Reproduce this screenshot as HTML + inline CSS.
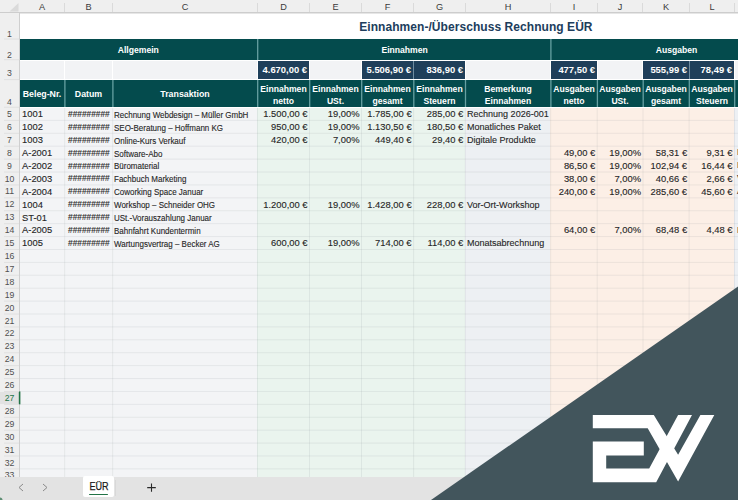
<!DOCTYPE html><html><head><meta charset="utf-8"><style>
html,body{margin:0;padding:0;width:738px;height:500px;overflow:hidden;background:#f4f5f7;font-family:"Liberation Sans", sans-serif;}
.a{position:absolute;}
.t{position:absolute;white-space:nowrap;line-height:1;} .d{-webkit-text-stroke:0.12px #262626;}
</style></head><body>
<div class="a" style="left:20.0px;top:106.5px;width:237.0px;height:370px;background:#f3f4f6"></div>
<div class="a" style="left:257.0px;top:106.5px;width:208.0px;height:370px;background:#eaf4ee"></div>
<div class="a" style="left:465.0px;top:106.5px;width:85.0px;height:370px;background:#edf0f3"></div>
<div class="a" style="left:550.0px;top:106.5px;width:184.0px;height:370px;background:#fcefe6"></div>
<div class="a" style="left:734.0px;top:106.5px;width:4.0px;height:370px;background:#edf0f4"></div>
<svg class="a" style="left:0;top:0" width="738" height="500"><line x1="20" y1="120.40" x2="738" y2="120.40" stroke="rgba(120,130,140,0.12)" stroke-width="1"/><line x1="20" y1="133.31" x2="738" y2="133.31" stroke="rgba(120,130,140,0.12)" stroke-width="1"/><line x1="20" y1="146.21" x2="738" y2="146.21" stroke="rgba(120,130,140,0.12)" stroke-width="1"/><line x1="20" y1="159.12" x2="738" y2="159.12" stroke="rgba(120,130,140,0.12)" stroke-width="1"/><line x1="20" y1="172.03" x2="738" y2="172.03" stroke="rgba(120,130,140,0.12)" stroke-width="1"/><line x1="20" y1="184.94" x2="738" y2="184.94" stroke="rgba(120,130,140,0.12)" stroke-width="1"/><line x1="20" y1="197.84" x2="738" y2="197.84" stroke="rgba(120,130,140,0.12)" stroke-width="1"/><line x1="20" y1="210.75" x2="738" y2="210.75" stroke="rgba(120,130,140,0.12)" stroke-width="1"/><line x1="20" y1="223.66" x2="738" y2="223.66" stroke="rgba(120,130,140,0.12)" stroke-width="1"/><line x1="20" y1="236.56" x2="738" y2="236.56" stroke="rgba(120,130,140,0.12)" stroke-width="1"/><line x1="20" y1="249.47" x2="738" y2="249.47" stroke="rgba(120,130,140,0.12)" stroke-width="1"/><line x1="20" y1="262.38" x2="738" y2="262.38" stroke="rgba(120,130,140,0.12)" stroke-width="1"/><line x1="20" y1="275.28" x2="738" y2="275.28" stroke="rgba(120,130,140,0.12)" stroke-width="1"/><line x1="20" y1="288.19" x2="738" y2="288.19" stroke="rgba(120,130,140,0.12)" stroke-width="1"/><line x1="20" y1="301.10" x2="738" y2="301.10" stroke="rgba(120,130,140,0.12)" stroke-width="1"/><line x1="20" y1="314.00" x2="738" y2="314.00" stroke="rgba(120,130,140,0.12)" stroke-width="1"/><line x1="20" y1="326.91" x2="738" y2="326.91" stroke="rgba(120,130,140,0.12)" stroke-width="1"/><line x1="20" y1="339.82" x2="738" y2="339.82" stroke="rgba(120,130,140,0.12)" stroke-width="1"/><line x1="20" y1="352.73" x2="738" y2="352.73" stroke="rgba(120,130,140,0.12)" stroke-width="1"/><line x1="20" y1="365.63" x2="738" y2="365.63" stroke="rgba(120,130,140,0.12)" stroke-width="1"/><line x1="20" y1="378.54" x2="738" y2="378.54" stroke="rgba(120,130,140,0.12)" stroke-width="1"/><line x1="20" y1="391.45" x2="738" y2="391.45" stroke="rgba(120,130,140,0.12)" stroke-width="1"/><line x1="20" y1="404.35" x2="738" y2="404.35" stroke="rgba(120,130,140,0.12)" stroke-width="1"/><line x1="20" y1="417.26" x2="738" y2="417.26" stroke="rgba(120,130,140,0.12)" stroke-width="1"/><line x1="20" y1="430.17" x2="738" y2="430.17" stroke="rgba(120,130,140,0.12)" stroke-width="1"/><line x1="20" y1="443.08" x2="738" y2="443.08" stroke="rgba(120,130,140,0.12)" stroke-width="1"/><line x1="20" y1="455.98" x2="738" y2="455.98" stroke="rgba(120,130,140,0.12)" stroke-width="1"/><line x1="20" y1="468.89" x2="738" y2="468.89" stroke="rgba(120,130,140,0.12)" stroke-width="1"/><line x1="20" y1="481.80" x2="738" y2="481.80" stroke="rgba(120,130,140,0.12)" stroke-width="1"/><line x1="64.70" y1="107" x2="64.70" y2="477" stroke="rgba(120,130,140,0.12)" stroke-width="1"/><line x1="112.70" y1="107" x2="112.70" y2="477" stroke="rgba(120,130,140,0.12)" stroke-width="1"/><line x1="257.50" y1="107" x2="257.50" y2="477" stroke="rgba(120,130,140,0.12)" stroke-width="1"/><line x1="309.50" y1="107" x2="309.50" y2="477" stroke="rgba(120,130,140,0.12)" stroke-width="1"/><line x1="361.50" y1="107" x2="361.50" y2="477" stroke="rgba(120,130,140,0.12)" stroke-width="1"/><line x1="413.60" y1="107" x2="413.60" y2="477" stroke="rgba(120,130,140,0.12)" stroke-width="1"/><line x1="465.30" y1="107" x2="465.30" y2="477" stroke="rgba(120,130,140,0.12)" stroke-width="1"/><line x1="550.70" y1="107" x2="550.70" y2="477" stroke="rgba(120,130,140,0.12)" stroke-width="1"/><line x1="597.20" y1="107" x2="597.20" y2="477" stroke="rgba(120,130,140,0.12)" stroke-width="1"/><line x1="643.00" y1="107" x2="643.00" y2="477" stroke="rgba(120,130,140,0.12)" stroke-width="1"/><line x1="689.10" y1="107" x2="689.10" y2="477" stroke="rgba(120,130,140,0.12)" stroke-width="1"/><line x1="734.50" y1="107" x2="734.50" y2="477" stroke="rgba(120,130,140,0.12)" stroke-width="1"/></svg>
<div class="a" style="left:20px;top:107px;width:718px;height:1px;background:#ffffff"></div>
<div class="a" style="left:20px;top:13px;width:718px;height:26px;background:#ffffff"></div>
<div class="t" style="left:359.2px;top:21.2px;font-size:12px;letter-spacing:0.06px;font-weight:bold;color:#203d5c">Einnahmen-/Überschuss Rechnung EÜR</div>
<div class="a" style="left:20px;top:39px;width:718px;height:21px;background:#044b4d"></div>
<svg class="a" style="left:0;top:0" width="738" height="110"><line x1="257.70" y1="39" x2="257.70" y2="60" stroke="#66a0a2" stroke-width="1.3"/><line x1="550.90" y1="39" x2="550.90" y2="60" stroke="#66a0a2" stroke-width="1.3"/></svg>
<div class="t" style="left:138.3px;top:45.6px;width:0;font-size:8.60px;font-weight:bold;color:#fff;"><span style="position:absolute;left:0;transform:translateX(-50%)">Allgemein</span></div>
<div class="t" style="left:404.6px;top:45.6px;width:0;font-size:8.60px;font-weight:bold;color:#fff;"><span style="position:absolute;left:0;transform:translateX(-50%)">Einnahmen</span></div>
<div class="t" style="left:676.5px;top:45.5px;width:0;font-size:8.60px;font-weight:bold;color:#fff;"><span style="position:absolute;left:0;transform:translateX(-50%)">Ausgaben</span></div>
<div class="a" style="left:20px;top:60px;width:718px;height:20px;background:#ffffff"></div><div class="a" style="left:20px;top:61px;width:718px;height:18px;background:#f2f3f5"></div>
<div class="a" style="left:64px;top:60px;width:1px;height:20px;background:#ffffff"></div>
<div class="a" style="left:112px;top:60px;width:1px;height:20px;background:#ffffff"></div>
<div class="a" style="left:257px;top:60px;width:1px;height:20px;background:#ffffff"></div>
<div class="a" style="left:309px;top:60px;width:1px;height:20px;background:#ffffff"></div>
<div class="a" style="left:361px;top:60px;width:1px;height:20px;background:#ffffff"></div>
<div class="a" style="left:413px;top:60px;width:1px;height:20px;background:#ffffff"></div>
<div class="a" style="left:465px;top:60px;width:1px;height:20px;background:#ffffff"></div>
<div class="a" style="left:550px;top:60px;width:1px;height:20px;background:#ffffff"></div>
<div class="a" style="left:597px;top:60px;width:1px;height:20px;background:#ffffff"></div>
<div class="a" style="left:642px;top:60px;width:1px;height:20px;background:#ffffff"></div>
<div class="a" style="left:689px;top:60px;width:1px;height:20px;background:#ffffff"></div>
<div class="a" style="left:734px;top:60px;width:1px;height:20px;background:#ffffff"></div>
<div class="a" style="left:258px;top:61px;width:51px;height:18px;background:#1f3f5a"></div>
<div class="t" style="left:258px;top:65.3px;width:49px;text-align:right;font-size:9.6px;font-weight:bold;color:#fff;transform:scaleX(0.98);transform-origin:100% 0">4.670,00 €</div>
<div class="a" style="left:362px;top:61px;width:51px;height:18px;background:#1f3f5a"></div>
<div class="t" style="left:362px;top:65.3px;width:49px;text-align:right;font-size:9.6px;font-weight:bold;color:#fff;transform:scaleX(0.98);transform-origin:100% 0">5.506,90 €</div>
<div class="a" style="left:414px;top:61px;width:51px;height:18px;background:#1f3f5a"></div>
<div class="t" style="left:414px;top:65.3px;width:49px;text-align:right;font-size:9.6px;font-weight:bold;color:#fff;transform:scaleX(0.98);transform-origin:100% 0">836,90 €</div>
<div class="a" style="left:551px;top:61px;width:46px;height:18px;background:#1f3f5a"></div>
<div class="t" style="left:551px;top:65.3px;width:44px;text-align:right;font-size:9.6px;font-weight:bold;color:#fff;transform:scaleX(0.98);transform-origin:100% 0">477,50 €</div>
<div class="a" style="left:643px;top:61px;width:46px;height:18px;background:#1f3f5a"></div>
<div class="t" style="left:643px;top:65.3px;width:44px;text-align:right;font-size:9.6px;font-weight:bold;color:#fff;transform:scaleX(0.98);transform-origin:100% 0">555,99 €</div>
<div class="a" style="left:690px;top:61px;width:44px;height:18px;background:#1f3f5a"></div>
<div class="t" style="left:690px;top:65.3px;width:42px;text-align:right;font-size:9.6px;font-weight:bold;color:#fff;transform:scaleX(0.98);transform-origin:100% 0">78,49 €</div>
<div class="a" style="left:413px;top:61px;width:1px;height:18px;background:#6f8ca0"></div>
<div class="a" style="left:689px;top:61px;width:1px;height:18px;background:#6f8ca0"></div>
<div class="a" style="left:20px;top:80px;width:718px;height:27px;background:#044b4d"></div>
<svg class="a" style="left:0;top:0" width="738" height="110"><line x1="64.90" y1="80" x2="64.90" y2="107" stroke="#66a0a2" stroke-width="1.3"/><line x1="112.90" y1="80" x2="112.90" y2="107" stroke="#66a0a2" stroke-width="1.3"/><line x1="257.70" y1="80" x2="257.70" y2="107" stroke="#66a0a2" stroke-width="1.3"/><line x1="309.70" y1="80" x2="309.70" y2="107" stroke="#66a0a2" stroke-width="1.3"/><line x1="361.70" y1="80" x2="361.70" y2="107" stroke="#66a0a2" stroke-width="1.3"/><line x1="413.80" y1="80" x2="413.80" y2="107" stroke="#66a0a2" stroke-width="1.3"/><line x1="465.50" y1="80" x2="465.50" y2="107" stroke="#66a0a2" stroke-width="1.3"/><line x1="550.90" y1="80" x2="550.90" y2="107" stroke="#66a0a2" stroke-width="1.3"/><line x1="597.40" y1="80" x2="597.40" y2="107" stroke="#66a0a2" stroke-width="1.3"/><line x1="643.20" y1="80" x2="643.20" y2="107" stroke="#66a0a2" stroke-width="1.3"/><line x1="689.30" y1="80" x2="689.30" y2="107" stroke="#66a0a2" stroke-width="1.3"/><line x1="734.70" y1="80" x2="734.70" y2="107" stroke="#66a0a2" stroke-width="1.3"/></svg>
<div class="t" style="left:20px;top:89.8px;width:44px;text-align:center;font-size:8.8px;font-weight:bold;color:#fff">Beleg-Nr.</div>
<div class="t" style="left:65px;top:89.8px;width:47px;text-align:center;font-size:8.8px;font-weight:bold;color:#fff">Datum</div>
<div class="t" style="left:113px;top:89.8px;width:144px;text-align:center;font-size:8.8px;font-weight:bold;color:#fff">Transaktion</div>
<div class="t" style="left:258px;top:82.6px;width:51px;text-align:center;font-size:8.6px;line-height:12px;font-weight:bold;color:#fff">Einnahmen<br>netto</div>
<div class="t" style="left:310px;top:82.6px;width:51px;text-align:center;font-size:8.6px;line-height:12px;font-weight:bold;color:#fff">Einnahmen<br>USt.</div>
<div class="t" style="left:362px;top:82.6px;width:51px;text-align:center;font-size:8.6px;line-height:12px;font-weight:bold;color:#fff">Einnahmen<br>gesamt</div>
<div class="t" style="left:414px;top:82.6px;width:51px;text-align:center;font-size:8.6px;line-height:12px;font-weight:bold;color:#fff">Einnahmen<br>Steuern</div>
<div class="t" style="left:466px;top:82.6px;width:84px;text-align:center;font-size:8.6px;line-height:12px;font-weight:bold;color:#fff">Bemerkung<br>Einnahmen</div>
<div class="t" style="left:551px;top:82.6px;width:46px;text-align:center;font-size:8.6px;line-height:12px;font-weight:bold;color:#fff">Ausgaben<br>netto</div>
<div class="t" style="left:598px;top:82.6px;width:44px;text-align:center;font-size:8.6px;line-height:12px;font-weight:bold;color:#fff">Ausgaben<br>USt.</div>
<div class="t" style="left:643px;top:82.6px;width:46px;text-align:center;font-size:8.6px;line-height:12px;font-weight:bold;color:#fff">Ausgaben<br>gesamt</div>
<div class="t" style="left:690px;top:82.6px;width:44px;text-align:center;font-size:8.6px;line-height:12px;font-weight:bold;color:#fff">Ausgaben<br>Steuern</div>
<div class="t" style="left:735px;top:89.8px;width:55px;text-align:center;font-size:8.8px;font-weight:bold;color:#fff"></div>
<div class="t d" style="left:22.0px;top:109.29px;font-size:9.40px;color:#262626;transform:scaleX(1.000);transform-origin:0 0">1001</div>
<div class="t d" style="left:68.0px;top:109.96px;font-size:9.00px;color:#262626;transform:scaleX(0.925);transform-origin:0 0">#########</div>
<div class="t d" style="left:114.3px;top:110.85px;font-size:8.90px;color:#262626;transform:scaleX(0.900);transform-origin:0 0">Rechnung Webdesign – Müller GmbH</div>
<div class="t d" style="left:258px;top:109.29px;width:49.50px;text-align:right;font-size:9.40px;color:#262626;transform:scaleX(1.000);transform-origin:100% 0">1.500,00 €</div>
<div class="t d" style="left:310px;top:109.29px;width:49.50px;text-align:right;font-size:9.40px;color:#262626;transform:scaleX(1.000);transform-origin:100% 0">19,00%</div>
<div class="t d" style="left:362px;top:109.29px;width:49.60px;text-align:right;font-size:9.40px;color:#262626;transform:scaleX(1.000);transform-origin:100% 0">1.785,00 €</div>
<div class="t d" style="left:414px;top:109.29px;width:49.30px;text-align:right;font-size:9.40px;color:#262626;transform:scaleX(1.000);transform-origin:100% 0">285,00 €</div>
<div class="t d" style="left:467.3px;top:109.21px;font-size:9.60px;color:#262626;transform:scaleX(0.940);transform-origin:0 0">Rechnung 2026-001</div>
<div class="t d" style="left:22.0px;top:122.20px;font-size:9.40px;color:#262626;transform:scaleX(1.000);transform-origin:0 0">1002</div>
<div class="t d" style="left:68.0px;top:122.86px;font-size:9.00px;color:#262626;transform:scaleX(0.925);transform-origin:0 0">#########</div>
<div class="t d" style="left:114.3px;top:123.75px;font-size:8.90px;color:#262626;transform:scaleX(0.900);transform-origin:0 0">SEO-Beratung – Hoffmann KG</div>
<div class="t d" style="left:258px;top:122.20px;width:49.50px;text-align:right;font-size:9.40px;color:#262626;transform:scaleX(1.000);transform-origin:100% 0">950,00 €</div>
<div class="t d" style="left:310px;top:122.20px;width:49.50px;text-align:right;font-size:9.40px;color:#262626;transform:scaleX(1.000);transform-origin:100% 0">19,00%</div>
<div class="t d" style="left:362px;top:122.20px;width:49.60px;text-align:right;font-size:9.40px;color:#262626;transform:scaleX(1.000);transform-origin:100% 0">1.130,50 €</div>
<div class="t d" style="left:414px;top:122.20px;width:49.30px;text-align:right;font-size:9.40px;color:#262626;transform:scaleX(1.000);transform-origin:100% 0">180,50 €</div>
<div class="t d" style="left:467.3px;top:122.12px;font-size:9.60px;color:#262626;transform:scaleX(0.940);transform-origin:0 0">Monatliches Paket</div>
<div class="t d" style="left:22.0px;top:135.11px;font-size:9.40px;color:#262626;transform:scaleX(1.000);transform-origin:0 0">1003</div>
<div class="t d" style="left:68.0px;top:135.77px;font-size:9.00px;color:#262626;transform:scaleX(0.925);transform-origin:0 0">#########</div>
<div class="t d" style="left:114.3px;top:136.66px;font-size:8.90px;color:#262626;transform:scaleX(0.900);transform-origin:0 0">Online-Kurs Verkauf</div>
<div class="t d" style="left:258px;top:135.11px;width:49.50px;text-align:right;font-size:9.40px;color:#262626;transform:scaleX(1.000);transform-origin:100% 0">420,00 €</div>
<div class="t d" style="left:310px;top:135.11px;width:49.50px;text-align:right;font-size:9.40px;color:#262626;transform:scaleX(1.000);transform-origin:100% 0">7,00%</div>
<div class="t d" style="left:362px;top:135.11px;width:49.60px;text-align:right;font-size:9.40px;color:#262626;transform:scaleX(1.000);transform-origin:100% 0">449,40 €</div>
<div class="t d" style="left:414px;top:135.11px;width:49.30px;text-align:right;font-size:9.40px;color:#262626;transform:scaleX(1.000);transform-origin:100% 0">29,40 €</div>
<div class="t d" style="left:467.3px;top:135.03px;font-size:9.60px;color:#262626;transform:scaleX(0.940);transform-origin:0 0">Digitale Produkte</div>
<div class="t d" style="left:22.0px;top:148.01px;font-size:9.40px;color:#262626;transform:scaleX(1.000);transform-origin:0 0">A-2001</div>
<div class="t d" style="left:68.0px;top:148.68px;font-size:9.00px;color:#262626;transform:scaleX(0.925);transform-origin:0 0">#########</div>
<div class="t d" style="left:114.3px;top:149.57px;font-size:8.90px;color:#262626;transform:scaleX(0.900);transform-origin:0 0">Software-Abo</div>
<div class="t d" style="left:551px;top:148.01px;width:44.20px;text-align:right;font-size:9.40px;color:#262626;transform:scaleX(1.000);transform-origin:100% 0">49,00 €</div>
<div class="t d" style="left:598px;top:148.01px;width:43.00px;text-align:right;font-size:9.40px;color:#262626;transform:scaleX(1.000);transform-origin:100% 0">19,00%</div>
<div class="t d" style="left:643px;top:148.01px;width:44.10px;text-align:right;font-size:9.40px;color:#262626;transform:scaleX(1.000);transform-origin:100% 0">58,31 €</div>
<div class="t d" style="left:690px;top:148.01px;width:42.50px;text-align:right;font-size:9.40px;color:#262626;transform:scaleX(1.000);transform-origin:100% 0">9,31 €</div>
<div class="t d" style="left:737.0px;top:148.38px;font-size:9.00px;color:#262626;transform:scaleX(1.000);transform-origin:0 0">Lizenz</div>
<div class="t d" style="left:22.0px;top:160.92px;font-size:9.40px;color:#262626;transform:scaleX(1.000);transform-origin:0 0">A-2002</div>
<div class="t d" style="left:68.0px;top:161.58px;font-size:9.00px;color:#262626;transform:scaleX(0.925);transform-origin:0 0">#########</div>
<div class="t d" style="left:114.3px;top:162.47px;font-size:8.90px;color:#262626;transform:scaleX(0.900);transform-origin:0 0">Büromaterial</div>
<div class="t d" style="left:551px;top:160.92px;width:44.20px;text-align:right;font-size:9.40px;color:#262626;transform:scaleX(1.000);transform-origin:100% 0">86,50 €</div>
<div class="t d" style="left:598px;top:160.92px;width:43.00px;text-align:right;font-size:9.40px;color:#262626;transform:scaleX(1.000);transform-origin:100% 0">19,00%</div>
<div class="t d" style="left:643px;top:160.92px;width:44.10px;text-align:right;font-size:9.40px;color:#262626;transform:scaleX(1.000);transform-origin:100% 0">102,94 €</div>
<div class="t d" style="left:690px;top:160.92px;width:42.50px;text-align:right;font-size:9.40px;color:#262626;transform:scaleX(1.000);transform-origin:100% 0">16,44 €</div>
<div class="t d" style="left:737.0px;top:161.28px;font-size:9.00px;color:#262626;transform:scaleX(1.000);transform-origin:0 0">Bürobedarf</div>
<div class="t d" style="left:22.0px;top:173.83px;font-size:9.40px;color:#262626;transform:scaleX(1.000);transform-origin:0 0">A-2003</div>
<div class="t d" style="left:68.0px;top:174.49px;font-size:9.00px;color:#262626;transform:scaleX(0.925);transform-origin:0 0">#########</div>
<div class="t d" style="left:114.3px;top:175.38px;font-size:8.90px;color:#262626;transform:scaleX(0.900);transform-origin:0 0">Fachbuch Marketing</div>
<div class="t d" style="left:551px;top:173.83px;width:44.20px;text-align:right;font-size:9.40px;color:#262626;transform:scaleX(1.000);transform-origin:100% 0">38,00 €</div>
<div class="t d" style="left:598px;top:173.83px;width:43.00px;text-align:right;font-size:9.40px;color:#262626;transform:scaleX(1.000);transform-origin:100% 0">7,00%</div>
<div class="t d" style="left:643px;top:173.83px;width:44.10px;text-align:right;font-size:9.40px;color:#262626;transform:scaleX(1.000);transform-origin:100% 0">40,66 €</div>
<div class="t d" style="left:690px;top:173.83px;width:42.50px;text-align:right;font-size:9.40px;color:#262626;transform:scaleX(1.000);transform-origin:100% 0">2,66 €</div>
<div class="t d" style="left:737.0px;top:174.19px;font-size:9.00px;color:#262626;transform:scaleX(1.000);transform-origin:0 0">Verlag</div>
<div class="t d" style="left:22.0px;top:186.74px;font-size:9.40px;color:#262626;transform:scaleX(1.000);transform-origin:0 0">A-2004</div>
<div class="t d" style="left:68.0px;top:187.40px;font-size:9.00px;color:#262626;transform:scaleX(0.925);transform-origin:0 0">#########</div>
<div class="t d" style="left:114.3px;top:188.29px;font-size:8.90px;color:#262626;transform:scaleX(0.900);transform-origin:0 0">Coworking Space Januar</div>
<div class="t d" style="left:551px;top:186.74px;width:44.20px;text-align:right;font-size:9.40px;color:#262626;transform:scaleX(1.000);transform-origin:100% 0">240,00 €</div>
<div class="t d" style="left:598px;top:186.74px;width:43.00px;text-align:right;font-size:9.40px;color:#262626;transform:scaleX(1.000);transform-origin:100% 0">19,00%</div>
<div class="t d" style="left:643px;top:186.74px;width:44.10px;text-align:right;font-size:9.40px;color:#262626;transform:scaleX(1.000);transform-origin:100% 0">285,60 €</div>
<div class="t d" style="left:690px;top:186.74px;width:42.50px;text-align:right;font-size:9.40px;color:#262626;transform:scaleX(1.000);transform-origin:100% 0">45,60 €</div>
<div class="t d" style="left:737.0px;top:187.10px;font-size:9.00px;color:#262626;transform:scaleX(1.000);transform-origin:0 0">Abo</div>
<div class="t d" style="left:22.0px;top:199.64px;font-size:9.40px;color:#262626;transform:scaleX(1.000);transform-origin:0 0">1004</div>
<div class="t d" style="left:68.0px;top:200.30px;font-size:9.00px;color:#262626;transform:scaleX(0.925);transform-origin:0 0">#########</div>
<div class="t d" style="left:114.3px;top:201.19px;font-size:8.90px;color:#262626;transform:scaleX(0.900);transform-origin:0 0">Workshop – Schneider OHG</div>
<div class="t d" style="left:258px;top:199.64px;width:49.50px;text-align:right;font-size:9.40px;color:#262626;transform:scaleX(1.000);transform-origin:100% 0">1.200,00 €</div>
<div class="t d" style="left:310px;top:199.64px;width:49.50px;text-align:right;font-size:9.40px;color:#262626;transform:scaleX(1.000);transform-origin:100% 0">19,00%</div>
<div class="t d" style="left:362px;top:199.64px;width:49.60px;text-align:right;font-size:9.40px;color:#262626;transform:scaleX(1.000);transform-origin:100% 0">1.428,00 €</div>
<div class="t d" style="left:414px;top:199.64px;width:49.30px;text-align:right;font-size:9.40px;color:#262626;transform:scaleX(1.000);transform-origin:100% 0">228,00 €</div>
<div class="t d" style="left:467.3px;top:199.56px;font-size:9.60px;color:#262626;transform:scaleX(0.940);transform-origin:0 0">Vor-Ort-Workshop</div>
<div class="t d" style="left:22.0px;top:212.55px;font-size:9.40px;color:#262626;transform:scaleX(1.000);transform-origin:0 0">ST-01</div>
<div class="t d" style="left:68.0px;top:213.21px;font-size:9.00px;color:#262626;transform:scaleX(0.925);transform-origin:0 0">#########</div>
<div class="t d" style="left:114.3px;top:214.10px;font-size:8.90px;color:#262626;transform:scaleX(0.900);transform-origin:0 0">USt.-Vorauszahlung Januar</div>
<div class="t d" style="left:22.0px;top:225.46px;font-size:9.40px;color:#262626;transform:scaleX(1.000);transform-origin:0 0">A-2005</div>
<div class="t d" style="left:68.0px;top:226.12px;font-size:9.00px;color:#262626;transform:scaleX(0.925);transform-origin:0 0">#########</div>
<div class="t d" style="left:114.3px;top:227.01px;font-size:8.90px;color:#262626;transform:scaleX(0.900);transform-origin:0 0">Bahnfahrt Kundentermin</div>
<div class="t d" style="left:551px;top:225.46px;width:44.20px;text-align:right;font-size:9.40px;color:#262626;transform:scaleX(1.000);transform-origin:100% 0">64,00 €</div>
<div class="t d" style="left:598px;top:225.46px;width:43.00px;text-align:right;font-size:9.40px;color:#262626;transform:scaleX(1.000);transform-origin:100% 0">7,00%</div>
<div class="t d" style="left:643px;top:225.46px;width:44.10px;text-align:right;font-size:9.40px;color:#262626;transform:scaleX(1.000);transform-origin:100% 0">68,48 €</div>
<div class="t d" style="left:690px;top:225.46px;width:42.50px;text-align:right;font-size:9.40px;color:#262626;transform:scaleX(1.000);transform-origin:100% 0">4,48 €</div>
<div class="t d" style="left:737.0px;top:225.82px;font-size:9.00px;color:#262626;transform:scaleX(1.000);transform-origin:0 0">Bahn</div>
<div class="t d" style="left:22.0px;top:238.36px;font-size:9.40px;color:#262626;transform:scaleX(1.000);transform-origin:0 0">1005</div>
<div class="t d" style="left:68.0px;top:239.03px;font-size:9.00px;color:#262626;transform:scaleX(0.925);transform-origin:0 0">#########</div>
<div class="t d" style="left:114.3px;top:239.92px;font-size:8.90px;color:#262626;transform:scaleX(0.900);transform-origin:0 0">Wartungsvertrag – Becker AG</div>
<div class="t d" style="left:258px;top:238.36px;width:49.50px;text-align:right;font-size:9.40px;color:#262626;transform:scaleX(1.000);transform-origin:100% 0">600,00 €</div>
<div class="t d" style="left:310px;top:238.36px;width:49.50px;text-align:right;font-size:9.40px;color:#262626;transform:scaleX(1.000);transform-origin:100% 0">19,00%</div>
<div class="t d" style="left:362px;top:238.36px;width:49.60px;text-align:right;font-size:9.40px;color:#262626;transform:scaleX(1.000);transform-origin:100% 0">714,00 €</div>
<div class="t d" style="left:414px;top:238.36px;width:49.30px;text-align:right;font-size:9.40px;color:#262626;transform:scaleX(1.000);transform-origin:100% 0">114,00 €</div>
<div class="t d" style="left:467.3px;top:238.28px;font-size:9.60px;color:#262626;transform:scaleX(0.940);transform-origin:0 0">Monatsabrechnung</div>
<div class="a" style="left:0;top:0;width:738px;height:13px;background:#efefef"></div>
<svg class="a" style="left:0;top:0" width="738" height="16"><line x1="0" y1="12.8" x2="738" y2="12.8" stroke="#cdcdcd" stroke-width="1.5"/></svg>
<div class="t" style="left:20px;top:3.0px;width:44px;text-align:center;font-size:9.2px;color:#3a3a3a">A</div>
<div class="a" style="left:64px;top:3px;width:1px;height:9px;background:#dadada"></div>
<div class="t" style="left:65px;top:3.0px;width:47px;text-align:center;font-size:9.2px;color:#3a3a3a">B</div>
<div class="a" style="left:112px;top:3px;width:1px;height:9px;background:#dadada"></div>
<div class="t" style="left:113px;top:3.0px;width:144px;text-align:center;font-size:9.2px;color:#3a3a3a">C</div>
<div class="a" style="left:257px;top:3px;width:1px;height:9px;background:#dadada"></div>
<div class="t" style="left:258px;top:3.0px;width:51px;text-align:center;font-size:9.2px;color:#3a3a3a">D</div>
<div class="a" style="left:309px;top:3px;width:1px;height:9px;background:#dadada"></div>
<div class="t" style="left:310px;top:3.0px;width:51px;text-align:center;font-size:9.2px;color:#3a3a3a">E</div>
<div class="a" style="left:361px;top:3px;width:1px;height:9px;background:#dadada"></div>
<div class="t" style="left:362px;top:3.0px;width:51px;text-align:center;font-size:9.2px;color:#3a3a3a">F</div>
<div class="a" style="left:413px;top:3px;width:1px;height:9px;background:#dadada"></div>
<div class="t" style="left:414px;top:3.0px;width:51px;text-align:center;font-size:9.2px;color:#3a3a3a">G</div>
<div class="a" style="left:465px;top:3px;width:1px;height:9px;background:#dadada"></div>
<div class="t" style="left:466px;top:3.0px;width:84px;text-align:center;font-size:9.2px;color:#3a3a3a">H</div>
<div class="a" style="left:550px;top:3px;width:1px;height:9px;background:#dadada"></div>
<div class="t" style="left:551px;top:3.0px;width:46px;text-align:center;font-size:9.2px;color:#3a3a3a">I</div>
<div class="a" style="left:597px;top:3px;width:1px;height:9px;background:#dadada"></div>
<div class="t" style="left:598px;top:3.0px;width:44px;text-align:center;font-size:9.2px;color:#3a3a3a">J</div>
<div class="a" style="left:642px;top:3px;width:1px;height:9px;background:#dadada"></div>
<div class="t" style="left:643px;top:3.0px;width:46px;text-align:center;font-size:9.2px;color:#3a3a3a">K</div>
<div class="a" style="left:689px;top:3px;width:1px;height:9px;background:#dadada"></div>
<div class="t" style="left:690px;top:3.0px;width:44px;text-align:center;font-size:9.2px;color:#3a3a3a">L</div>
<div class="a" style="left:734px;top:3px;width:1px;height:9px;background:#dadada"></div>
<div class="t" style="left:735px;top:3.0px;width:55px;text-align:center;font-size:9.2px;color:#3a3a3a">M</div>
<svg class="a" style="left:0;top:0" width="20" height="13"><polygon points="18.5,3 18.5,11.5 9.5,11.5" fill="#dadada"/></svg>
<div class="a" style="left:0;top:13px;width:19px;height:464px;background:#efefef"></div>
<div class="a" style="left:19px;top:13px;width:1px;height:464px;background:#cfcfcf"></div>
<div class="a" style="left:0;top:391.95px;width:19px;height:11.91px;background:#e2e2e2"></div>
<svg class="a" style="left:0;top:0" width="22" height="500"><line x1="19.6" y1="391.45" x2="19.6" y2="404.35" stroke="#217346" stroke-width="1.6"/></svg>
<div class="t" style="left:0;top:29.14px;width:19px;text-align:center;font-size:9.9px;color:#505050;transform:scaleX(0.88)">1</div>
<div class="t" style="left:0;top:49.74px;width:19px;text-align:center;font-size:9.9px;color:#505050;transform:scaleX(0.88)">2</div>
<div class="t" style="left:0;top:68.24px;width:19px;text-align:center;font-size:9.9px;color:#505050;transform:scaleX(0.88)">3</div>
<div class="t" style="left:0;top:97.44px;width:19px;text-align:center;font-size:9.9px;color:#505050;transform:scaleX(0.88)">4</div>
<div class="t" style="left:0;top:109.04px;width:19px;text-align:center;font-size:9.9px;color:#505050;transform:scaleX(0.88)">5</div>
<div class="t" style="left:0;top:121.95px;width:19px;text-align:center;font-size:9.9px;color:#505050;transform:scaleX(0.88)">6</div>
<div class="t" style="left:0;top:134.85px;width:19px;text-align:center;font-size:9.9px;color:#505050;transform:scaleX(0.88)">7</div>
<div class="t" style="left:0;top:147.76px;width:19px;text-align:center;font-size:9.9px;color:#505050;transform:scaleX(0.88)">8</div>
<div class="t" style="left:0;top:160.67px;width:19px;text-align:center;font-size:9.9px;color:#505050;transform:scaleX(0.88)">9</div>
<div class="t" style="left:0;top:173.58px;width:19px;text-align:center;font-size:9.9px;color:#505050;transform:scaleX(0.88)">10</div>
<div class="t" style="left:0;top:186.48px;width:19px;text-align:center;font-size:9.9px;color:#505050;transform:scaleX(0.88)">11</div>
<div class="t" style="left:0;top:199.39px;width:19px;text-align:center;font-size:9.9px;color:#505050;transform:scaleX(0.88)">12</div>
<div class="t" style="left:0;top:212.30px;width:19px;text-align:center;font-size:9.9px;color:#505050;transform:scaleX(0.88)">13</div>
<div class="t" style="left:0;top:225.20px;width:19px;text-align:center;font-size:9.9px;color:#505050;transform:scaleX(0.88)">14</div>
<div class="t" style="left:0;top:238.11px;width:19px;text-align:center;font-size:9.9px;color:#505050;transform:scaleX(0.88)">15</div>
<div class="t" style="left:0;top:251.02px;width:19px;text-align:center;font-size:9.9px;color:#505050;transform:scaleX(0.88)">16</div>
<div class="t" style="left:0;top:263.92px;width:19px;text-align:center;font-size:9.9px;color:#505050;transform:scaleX(0.88)">17</div>
<div class="t" style="left:0;top:276.83px;width:19px;text-align:center;font-size:9.9px;color:#505050;transform:scaleX(0.88)">18</div>
<div class="t" style="left:0;top:289.74px;width:19px;text-align:center;font-size:9.9px;color:#505050;transform:scaleX(0.88)">19</div>
<div class="t" style="left:0;top:302.65px;width:19px;text-align:center;font-size:9.9px;color:#505050;transform:scaleX(0.88)">20</div>
<div class="t" style="left:0;top:315.55px;width:19px;text-align:center;font-size:9.9px;color:#505050;transform:scaleX(0.88)">21</div>
<div class="t" style="left:0;top:328.46px;width:19px;text-align:center;font-size:9.9px;color:#505050;transform:scaleX(0.88)">22</div>
<div class="t" style="left:0;top:341.37px;width:19px;text-align:center;font-size:9.9px;color:#505050;transform:scaleX(0.88)">23</div>
<div class="t" style="left:0;top:354.27px;width:19px;text-align:center;font-size:9.9px;color:#505050;transform:scaleX(0.88)">24</div>
<div class="t" style="left:0;top:367.18px;width:19px;text-align:center;font-size:9.9px;color:#505050;transform:scaleX(0.88)">25</div>
<div class="t" style="left:0;top:380.09px;width:19px;text-align:center;font-size:9.9px;color:#505050;transform:scaleX(0.88)">26</div>
<div class="t" style="left:0;top:392.99px;width:19px;text-align:center;font-size:9.9px;color:#217346;transform:scaleX(0.88)">27</div>
<div class="t" style="left:0;top:405.90px;width:19px;text-align:center;font-size:9.9px;color:#505050;transform:scaleX(0.88)">28</div>
<div class="t" style="left:0;top:418.81px;width:19px;text-align:center;font-size:9.9px;color:#505050;transform:scaleX(0.88)">29</div>
<div class="t" style="left:0;top:431.72px;width:19px;text-align:center;font-size:9.9px;color:#505050;transform:scaleX(0.88)">30</div>
<div class="t" style="left:0;top:444.62px;width:19px;text-align:center;font-size:9.9px;color:#505050;transform:scaleX(0.88)">31</div>
<div class="t" style="left:0;top:457.53px;width:19px;text-align:center;font-size:9.9px;color:#505050;transform:scaleX(0.88)">32</div>
<div class="t" style="left:0;top:470.44px;width:19px;text-align:center;font-size:9.9px;color:#505050;transform:scaleX(0.88)">33</div>
<svg class="a" style="left:0;top:0" width="20" height="500"><line x1="4" y1="39.00" x2="19" y2="39.00" stroke="#e0e0e0" stroke-width="1"/><line x1="4" y1="59.70" x2="19" y2="59.70" stroke="#e0e0e0" stroke-width="1"/><line x1="4" y1="79.60" x2="19" y2="79.60" stroke="#e0e0e0" stroke-width="1"/><line x1="4" y1="107.20" x2="19" y2="107.20" stroke="#e0e0e0" stroke-width="1"/><line x1="4" y1="120.40" x2="19" y2="120.40" stroke="#e0e0e0" stroke-width="1"/><line x1="4" y1="133.31" x2="19" y2="133.31" stroke="#e0e0e0" stroke-width="1"/><line x1="4" y1="146.21" x2="19" y2="146.21" stroke="#e0e0e0" stroke-width="1"/><line x1="4" y1="159.12" x2="19" y2="159.12" stroke="#e0e0e0" stroke-width="1"/><line x1="4" y1="172.03" x2="19" y2="172.03" stroke="#e0e0e0" stroke-width="1"/><line x1="4" y1="184.94" x2="19" y2="184.94" stroke="#e0e0e0" stroke-width="1"/><line x1="4" y1="197.84" x2="19" y2="197.84" stroke="#e0e0e0" stroke-width="1"/><line x1="4" y1="210.75" x2="19" y2="210.75" stroke="#e0e0e0" stroke-width="1"/><line x1="4" y1="223.66" x2="19" y2="223.66" stroke="#e0e0e0" stroke-width="1"/><line x1="4" y1="236.56" x2="19" y2="236.56" stroke="#e0e0e0" stroke-width="1"/><line x1="4" y1="249.47" x2="19" y2="249.47" stroke="#e0e0e0" stroke-width="1"/><line x1="4" y1="262.38" x2="19" y2="262.38" stroke="#e0e0e0" stroke-width="1"/><line x1="4" y1="275.28" x2="19" y2="275.28" stroke="#e0e0e0" stroke-width="1"/><line x1="4" y1="288.19" x2="19" y2="288.19" stroke="#e0e0e0" stroke-width="1"/><line x1="4" y1="301.10" x2="19" y2="301.10" stroke="#e0e0e0" stroke-width="1"/><line x1="4" y1="314.00" x2="19" y2="314.00" stroke="#e0e0e0" stroke-width="1"/><line x1="4" y1="326.91" x2="19" y2="326.91" stroke="#e0e0e0" stroke-width="1"/><line x1="4" y1="339.82" x2="19" y2="339.82" stroke="#e0e0e0" stroke-width="1"/><line x1="4" y1="352.73" x2="19" y2="352.73" stroke="#e0e0e0" stroke-width="1"/><line x1="4" y1="365.63" x2="19" y2="365.63" stroke="#e0e0e0" stroke-width="1"/><line x1="4" y1="378.54" x2="19" y2="378.54" stroke="#e0e0e0" stroke-width="1"/><line x1="4" y1="391.45" x2="19" y2="391.45" stroke="#e0e0e0" stroke-width="1"/><line x1="4" y1="404.35" x2="19" y2="404.35" stroke="#e0e0e0" stroke-width="1"/><line x1="4" y1="417.26" x2="19" y2="417.26" stroke="#e0e0e0" stroke-width="1"/><line x1="4" y1="430.17" x2="19" y2="430.17" stroke="#e0e0e0" stroke-width="1"/><line x1="4" y1="443.08" x2="19" y2="443.08" stroke="#e0e0e0" stroke-width="1"/><line x1="4" y1="455.98" x2="19" y2="455.98" stroke="#e0e0e0" stroke-width="1"/><line x1="4" y1="468.89" x2="19" y2="468.89" stroke="#e0e0e0" stroke-width="1"/><line x1="4" y1="481.80" x2="19" y2="481.80" stroke="#e0e0e0" stroke-width="1"/></svg>
<div class="a" style="left:0;top:476.5px;width:738px;height:24px;background:#e3e3e3"></div>
<div class="a" style="left:82.5px;top:476px;width:31px;height:20.5px;background:#ffffff;border-radius:2px"></div>
<div class="t" style="left:83.5px;top:481.8px;width:31px;text-align:center;font-size:10.4px;color:#1a1a1a;-webkit-text-stroke:0.25px #1a1a1a"><span style="display:inline-block;transform:scaleX(0.87)">EÜR</span></div>
<div class="a" style="left:88.5px;top:493.8px;width:19px;height:1.6px;background:#217346;border-radius:1px"></div>
<div class="a" style="left:115px;top:480px;width:1px;height:16px;background:#d8d8d8"></div>
<svg class="a" style="left:0;top:477px" width="200" height="23"><polyline points="23,7 19,10.5 23,14" fill="none" stroke="#8a8a8a" stroke-width="1"/><polyline points="43,7 47,10.5 43,14" fill="none" stroke="#8a8a8a" stroke-width="1"/><path d="M151.5,6.5 V14.7 M147.2,10.6 H155.8" stroke="#2a2a2a" stroke-width="1.1"/><circle cx="0" cy="23" r="2.5" fill="#5f8f74"/></svg>
<svg class="a" style="left:0;top:0" width="738" height="500"><polygon points="431,500 738,286.5 738,500" fill="#42555c"/><polygon points="592.8,415 653.8,415 678.1,454.7 700.4,415 714.3,415 678.1,481.6 647.7,428.2 592.8,428.2" fill="#fff"/><polygon points="592.8,482.3 656.2,482.3 692,415 678.1,415 649.2,468.5 606.2,468.5 606.2,455.4 643.8,455.4 643.8,441.5 592.8,441.5" fill="#fff"/></svg>
</body></html>
